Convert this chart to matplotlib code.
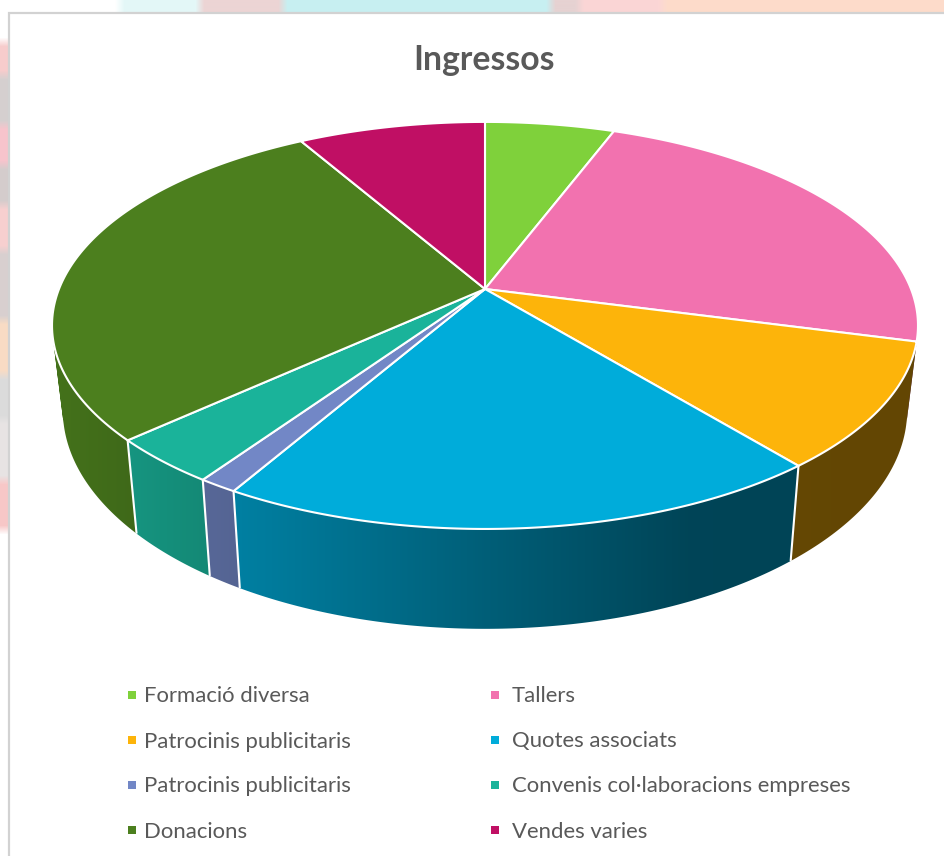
import numpy as np
import matplotlib
matplotlib.use("Agg")
import matplotlib.pyplot as plt
from matplotlib.colors import to_rgb
from matplotlib.patches import PathPatch, Polygon, Rectangle
from matplotlib.path import Path

title = "Ingressos"
labels = ["Formació diversa", "Tallers", "Patrocinis publicitaris", "Quotes associats",
          "Patrocinis publicitaris", "Convenis col·laboracions empreses", "Donacions", "Vendes varies"]
values = [5.75, 23.35, 9.97, 19.24, 1.24, 3.65, 28.49, 8.31]
colors = ["#7FD13B", "#F272AF", "#FDB40A", "#00ACDA", "#7287C6", "#1AB39A", "#4C7F1E", "#C00F64"]

# faded picture behind the chart card (start, end, colour)
top_bands = [(120, 200, "#e4f8f8"), (200, 283, "#ecd4d4"), (283, 551, "#c8eff1"),
             (551, 580, "#e6d2d2"), (580, 663, "#fbd6d6"), (663, 945, "#fddccb")]
left_bands = [(42, 75, "#f7cccc"), (75, 125, "#d6d0d0"), (125, 165, "#f8c4cc"), (165, 205, "#d4cccc"),
              (205, 250, "#f8d0d0"), (250, 320, "#d8d0d0"), (320, 375, "#f9dcc4"), (375, 420, "#dcdcdc"),
              (420, 480, "#e8e4e4"), (480, 530, "#f8c8c8")]

# side shading against screen x
shade_x = [50, 130, 200, 240, 485, 690, 945]
shade_f = [0.90, 0.83, 0.77, 0.74, 0.55, 0.40, 0.39]

# pie geometry in pixels
cx, cy = 485, 289
a, b, k = 426, 197, 0.179
depth = 82
side_scale = 0.975


def project(theta):
    # theta in radians, clockwise from the top of the disc
    X, Y = np.sin(theta), np.cos(theta)
    w = 1 + k * Y
    return cx + a * X / w, cy - b * Y / w, w


def project_bottom(theta):
    x, y, w = project(theta)
    return cx + (x - cx) * side_scale, y + depth / w


def soft_strip(bands, n, blur=9):
    # one row of colours per pixel, blurred like the faded background
    rgb = np.ones((n, 3))
    for start, end, c in bands:
        rgb[start:end] = to_rgb(c)
    kernel = np.ones(blur) / blur
    for ch in range(3):
        rgb[:, ch] = np.convolve(np.pad(rgb[:, ch], blur, mode="edge"), kernel, mode="same")[blur:-blur]
    return rgb


def side_path(th):
    # swept quads between both rims, all wound the same way so they merge into one clip
    xt, yt, _ = project(th)
    xb, yb = project_bottom(th)
    verts, codes = [], []
    for j in range(len(th) - 1):
        q = np.array([(xt[j], yt[j]), (xt[j + 1], yt[j + 1]), (xb[j + 1], yb[j + 1]), (xb[j], yb[j])])
        area = np.sum(q[:, 0] * np.roll(q[:, 1], -1) - np.roll(q[:, 0], -1) * q[:, 1])
        if area < 0:
            q = q[::-1]
        verts.extend(q.tolist() + [q[0].tolist()])
        codes.extend([Path.MOVETO, Path.LINETO, Path.LINETO, Path.LINETO, Path.CLOSEPOLY])
    return Path(verts, codes)


plt.rcParams["font.family"] = ["Lato", "DejaVu Sans"]

fig = plt.figure(figsize=(9.45, 8.56), dpi=100)
ax = fig.add_axes([0, 0, 1, 1])

ax.imshow(soft_strip(top_bands, 945)[np.newaxis, :, :], extent=(0, 945, 13, 0), aspect="auto", zorder=0)
ax.imshow(soft_strip(left_bands, 856)[:, np.newaxis, :], extent=(0, 8, 856, 0), aspect="auto", zorder=0)
ax.set_xlim(0, 945)
ax.set_ylim(856, 0)
ax.axis("off")
ax.add_patch(Rectangle((8.5, 12.5), 945, 850, fc="white", ec="#d2d2d2", lw=1.6, zorder=1))

edges = np.radians(np.cumsum([0] + values) * 3.6)
grad_x = np.arange(0, 946)
grad_f = np.interp(grad_x, shade_x, shade_f)

# sides first, the top disc covers what is behind
for i in range(len(values)):
    t0, t1 = edges[i], edges[i + 1]
    lo, hi = max(t0, np.radians(80)), min(t1, np.radians(280))
    if lo >= hi:
        continue
    th = np.linspace(lo, hi, int(np.degrees(hi - lo) * 2) + 2)
    side = PathPatch(side_path(th), fc="none", ec="none", transform=ax.transData)
    ax.add_patch(side)
    grad = grad_f[np.newaxis, :, np.newaxis] * np.array(to_rgb(colors[i]))
    im = ax.imshow(grad, extent=(0, 945, 856, 0), aspect="auto", interpolation="bilinear", zorder=2)
    im.set_clip_path(side)

ax.set_xlim(0, 945)
ax.set_ylim(856, 0)

for t in edges[:-1]:
    if np.radians(110) < t < np.radians(250):
        xt, yt, _ = project(t)
        xb, yb = project_bottom(t)
        ax.plot([xt, xb], [yt, yb], color="white", lw=1.5, solid_capstyle="butt", zorder=3)

# top of the pie
for i in range(len(values)):
    th = np.linspace(edges[i], edges[i + 1], 120)
    x, y, _ = project(th)
    pts = np.column_stack([np.r_[cx, x], np.r_[cy, y]])
    ax.add_patch(Polygon(pts, closed=True, fc=colors[i], ec="white", lw=1.5, joinstyle="round", zorder=4))

ax.text(484, 59.5, title, ha="center", va="center", fontsize=24.3, fontweight="bold", color="#595959", zorder=5)

# legend, two columns
for i, (lab, c) in enumerate(zip(labels, colors)):
    row, col = i // 2, i % 2
    y = 695 + row * 45
    mx = 128 if col == 0 else 491
    ax.add_patch(Rectangle((mx, y - 4), 8, 8, fc=c, ec="none", zorder=5))
    ax.text(144.5 if col == 0 else 512, y + 1.5, lab, ha="left", va="center", fontsize=15.9, color="#595959", zorder=5)

fig.savefig("out.png", dpi=100)
